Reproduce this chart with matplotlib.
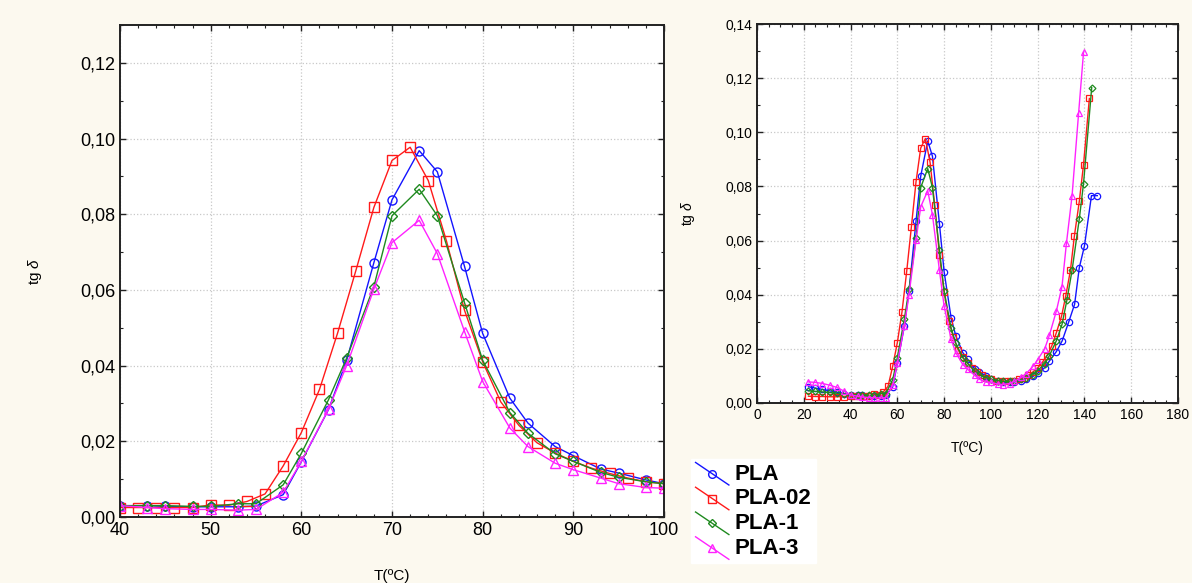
import matplotlib
matplotlib.use('Agg')
import matplotlib.pyplot as plt
from matplotlib.ticker import MultipleLocator, FuncFormatter
from matplotlib.legend_handler import HandlerLine2D
from matplotlib.lines import Line2D
import numpy as np

plt.rcParams['font.family'] = ['Liberation Sans', 'DejaVu Sans']
plt.rcParams['mathtext.fontset'] = 'custom'
plt.rcParams['mathtext.rm'] = 'Liberation Sans'
plt.rcParams['mathtext.it'] = 'Liberation Sans:italic'

labels = ['PLA', 'PLA-02', 'PLA-1', 'PLA-3']
colors = ['#1414ff', '#ff1a1a', '#1f8a1f', '#ff22ff']
markers = ['o', 's', 'D', '^']

# tg delta, 40-100 C
t_pla = [40, 43, 45, 48, 50, 53, 55, 58, 60, 63, 65, 68, 70, 73, 75, 78, 80,
         83, 85, 88, 90, 93, 95, 98, 100]
pla = [0.0030, 0.0030, 0.0028, 0.0027, 0.0027, 0.0027, 0.0029, 0.0059, 0.0146,
       0.0284, 0.0414, 0.0672, 0.0838, 0.0968, 0.0912, 0.0662, 0.0485, 0.0314,
       0.0248, 0.0186, 0.0162, 0.0127, 0.0116, 0.0098, 0.0088]

t_pla02 = [40, 42, 44, 46, 48, 50, 52, 54, 56, 58, 60, 62, 64, 66, 68, 70, 72,
           74, 76, 78, 80, 82, 84, 86, 88, 90, 92, 94, 96, 98, 100]
pla02 = [0.0025, 0.0025, 0.0025, 0.0025, 0.0025, 0.0032, 0.0031, 0.0041, 0.0061,
         0.0135, 0.0223, 0.0337, 0.0486, 0.0650, 0.0818, 0.0942, 0.0977, 0.0889,
         0.0730, 0.0546, 0.0410, 0.0304, 0.0242, 0.0196, 0.0169, 0.0147, 0.0129,
         0.0115, 0.0103, 0.0093, 0.0088]

t_pla1 = [40, 43, 45, 48, 50, 53, 55, 58, 60, 63, 65, 68, 70, 73, 75, 78, 80,
          83, 85, 88, 90, 93, 95, 98, 100]
pla1 = [0.0030, 0.0030, 0.0030, 0.0028, 0.0028, 0.0035, 0.0035, 0.0085, 0.0168,
        0.0310, 0.0420, 0.0609, 0.0796, 0.0866, 0.0796, 0.0566, 0.0414, 0.0276,
        0.0221, 0.0167, 0.0147, 0.0118, 0.0105, 0.0093, 0.0088]

t_pla3 = [40, 43, 45, 48, 50, 53, 55, 58, 60, 63, 65, 68, 70, 73, 75, 78, 80,
          83, 85, 88, 90, 93, 95, 98, 100]
pla3 = [0.0030, 0.0025, 0.0022, 0.0020, 0.0020, 0.0018, 0.0020, 0.0065, 0.0147,
        0.0285, 0.0400, 0.0602, 0.0725, 0.0784, 0.0696, 0.0490, 0.0358, 0.0235,
        0.0186, 0.0142, 0.0125, 0.0103, 0.0088, 0.0078, 0.0076]

# extra points for the full range plot
t_lo = [22, 25, 28, 31, 34, 37]
pla_lo = [0.0060, 0.0055, 0.0050, 0.0045, 0.0040, 0.0035]
pla02_lo = [0.0025, 0.0024, 0.0024, 0.0023, 0.0023, 0.0024]
pla1_lo = [0.0045, 0.0043, 0.0041, 0.0039, 0.0036, 0.0033]
pla3_lo = [0.0078, 0.0076, 0.0072, 0.0066, 0.0058, 0.0045]

t_pla_hi = [103, 105, 108, 110, 113, 115, 118, 120, 123, 125, 128, 130.5,
            133.3, 135.8, 137.8, 140, 143, 145.5]
pla_hi = [0.0080, 0.0076, 0.0076, 0.0078, 0.0083, 0.0090, 0.0098, 0.0110,
          0.0130, 0.0155, 0.0190, 0.0230, 0.0300, 0.0365, 0.0500, 0.0580,
          0.0766, 0.0766]
t_pla02_hi = [102, 104, 106, 108, 110, 112, 114, 116, 118, 120, 122, 124, 126,
              128, 130.2, 132, 134, 135.7, 137.8, 139.6, 142.1]
pla02_hi = [0.0083, 0.0080, 0.0080, 0.0081, 0.0083, 0.0087, 0.0093, 0.0102,
            0.0115, 0.0130, 0.0150, 0.0175, 0.0210, 0.0260, 0.0320, 0.0395,
            0.0490, 0.0617, 0.0745, 0.0880, 0.1125]
t_pla1_hi = [103, 105, 108, 110, 113, 115, 118, 120, 123, 125, 128, 130.4,
             132.5, 134.7, 137.8, 139.6, 143.1]
pla1_hi = [0.0082, 0.0080, 0.0080, 0.0082, 0.0087, 0.0093, 0.0105, 0.0120,
           0.0145, 0.0175, 0.0230, 0.0290, 0.0380, 0.0490, 0.0680, 0.0810,
           0.1165]
t_pla3_hi = [103, 105, 108, 110, 113, 115, 118, 120, 123, 125, 128, 130.4,
             132.3, 134.7, 137.5, 139.6]
pla3_hi = [0.0070, 0.0068, 0.0072, 0.0080, 0.0095, 0.0108, 0.0135, 0.0160,
           0.0200, 0.0250, 0.0340, 0.0430, 0.0590, 0.0765, 0.1070, 0.1295]

left_t = [t_pla, t_pla02, t_pla1, t_pla3]
left_y = [pla, pla02, pla1, pla3]
lo_y = [pla_lo, pla02_lo, pla1_lo, pla3_lo]
hi_t = [t_pla_hi, t_pla02_hi, t_pla1_hi, t_pla3_hi]
hi_y = [pla_hi, pla02_hi, pla1_hi, pla3_hi]


class DiagonalHandler(HandlerLine2D):
    # statistica style legend key: slanted line with marker in the middle
    def create_artists(self, legend, orig_handle, xdescent, ydescent,
                       width, height, fontsize, trans):
        x0, x1 = -xdescent, -xdescent + width
        y0, y1 = height * 1.1, -height * 0.35
        line = Line2D([x0, x1], [y0, y1], color=orig_handle.get_color(), lw=1)
        mark = Line2D([(x0 + x1) / 2], [(y0 + y1) / 2],
                      marker=orig_handle.get_marker(),
                      markersize=orig_handle.get_markersize() * 0.85,
                      mfc='none', mec=orig_handle.get_color(), mew=1, ls='none')
        line.set_transform(trans)
        mark.set_transform(trans)
        return [line, mark]


comma = FuncFormatter(lambda v, p: ('%.2f' % v).replace('.', ','))

fig = plt.figure(figsize=(11.92, 5.83), dpi=100)
fig.patch.set_facecolor('#fcf9ef')

ax1 = fig.add_axes([120 / 1192, 66 / 583, 544 / 1192, 492 / 583])
ax2 = fig.add_axes([757 / 1192, 180 / 583, 421 / 1192, 379 / 583])

handles = []
for i in range(4):
    ms = 6.5 if markers[i] != 'D' else 5
    h, = ax1.plot(left_t[i], left_y[i], color=colors[i], lw=1,
                  marker=markers[i], ms=ms, mfc='none', mew=1, mec=colors[i])
    handles.append(h)
    tt = t_lo + left_t[i] + hi_t[i]
    yy = lo_y[i] + left_y[i] + hi_y[i]
    ax2.plot(tt, yy, color=colors[i], lw=1, marker=markers[i],
             ms=ms * 0.7, mfc='none', mew=0.9, mec=colors[i])

ax1.set_xlim(40, 100)
ax1.set_ylim(0, 0.13)
ax1.xaxis.set_major_locator(MultipleLocator(10))
ax1.xaxis.set_minor_locator(MultipleLocator(2))
ax1.yaxis.set_major_locator(MultipleLocator(0.02))
ax1.yaxis.set_minor_locator(MultipleLocator(0.01))
ax1.tick_params(labelsize=13)

ax2.set_xlim(0, 180)
ax2.set_ylim(0, 0.14)
ax2.xaxis.set_major_locator(MultipleLocator(20))
ax2.xaxis.set_minor_locator(MultipleLocator(5))
ax2.yaxis.set_major_locator(MultipleLocator(0.02))
ax2.yaxis.set_minor_locator(MultipleLocator(0.01))
ax2.tick_params(labelsize=10)

for ax in (ax1, ax2):
    ax.set_facecolor('white')
    ax.yaxis.set_major_formatter(comma)
    ax.grid(True, which='major', color='#c8c8c8', ls=':', lw=0.9)
    ax.tick_params(which='both', direction='in', top=True, right=True,
                   color='#222222')
    ax.tick_params(which='major', length=4, width=1)
    ax.tick_params(which='minor', length=2.5, width=0.8)
    for s in ax.spines.values():
        s.set_linewidth(1.4)
        s.set_color('#222222')

ax1.set_xlabel('T(ºC)', fontsize=11, labelpad=22)
ax1.set_ylabel('tg $\\delta$', fontsize=11, labelpad=26)
ax2.set_xlabel('T(ºC)', fontsize=10, labelpad=14)
ax2.set_ylabel('tg $\\delta$', fontsize=10, labelpad=20)

leg = fig.legend(handles, labels, loc='upper left',
                 bbox_to_anchor=(680 / 1192, 1 - 448 / 583),
                 frameon=True, fancybox=False, edgecolor='white',
                 facecolor='white', framealpha=1,
                 prop={'weight': 'bold', 'size': 16},
                 handlelength=1.5, handletextpad=0.25, labelspacing=0.17,
                 borderpad=0.2, handler_map={Line2D: DiagonalHandler()})

fig.savefig('out.png', dpi=100, facecolor=fig.get_facecolor())
